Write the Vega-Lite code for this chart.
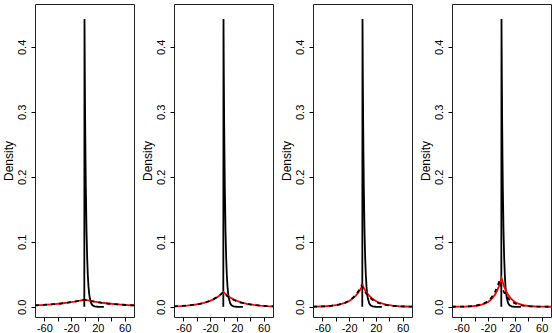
{
  "$schema": "https://vega.github.io/schema/vega-lite/v6.json",
  "padding": {"left": 1, "top": 3, "right": 0, "bottom": 0},
  "background": "white",
  "datasets": {
    "spike": [
      {"x": -0.3, "y": 0}, {"x": 0, "y": 0.443}, {"x": 0.5, "y": 0.355}, {"x": 1, "y": 0.284},
      {"x": 1.5, "y": 0.228}, {"x": 2, "y": 0.183}, {"x": 3, "y": 0.117}, {"x": 4, "y": 0.075},
      {"x": 5, "y": 0.048}, {"x": 6, "y": 0.031}, {"x": 7, "y": 0.02}, {"x": 8, "y": 0.013},
      {"x": 10, "y": 0.0053}, {"x": 12, "y": 0.0022}, {"x": 15, "y": 0.0006}, {"x": 20, "y": 0.0001}, {"x": 29, "y": 0}
    ],
    "curves": [
      {"p": 1, "s": "r", "x": -74, "y": 0.00213}, {"p": 1, "s": "r", "x": -65, "y": 0.00262}, {"p": 1, "s": "r", "x": -55, "y": 0.00327},
      {"p": 1, "s": "r", "x": -45, "y": 0.00408}, {"p": 1, "s": "r", "x": -35, "y": 0.0051}, {"p": 1, "s": "r", "x": -25, "y": 0.00637},
      {"p": 1, "s": "r", "x": -15, "y": 0.00795}, {"p": 1, "s": "r", "x": -7, "y": 0.0095}, {"p": 1, "s": "r", "x": -3, "y": 0.0104},
      {"p": 1, "s": "r", "x": 0, "y": 0.0111}, {"p": 1, "s": "r", "x": 3, "y": 0.0104}, {"p": 1, "s": "r", "x": 7, "y": 0.0095},
      {"p": 1, "s": "r", "x": 15, "y": 0.00795}, {"p": 1, "s": "r", "x": 25, "y": 0.00637}, {"p": 1, "s": "r", "x": 35, "y": 0.0051},
      {"p": 1, "s": "r", "x": 45, "y": 0.00408}, {"p": 1, "s": "r", "x": 55, "y": 0.00327}, {"p": 1, "s": "r", "x": 65, "y": 0.00262},
      {"p": 1, "s": "r", "x": 74, "y": 0.00213},

      {"p": 1, "s": "d", "x": -74, "y": 0.00215}, {"p": 1, "s": "d", "x": -65.5, "y": 0.00262}, {"p": 1, "s": "d", "x": -55.5, "y": 0.00327},
      {"p": 1, "s": "d", "x": -45.5, "y": 0.00408}, {"p": 1, "s": "d", "x": -35.5, "y": 0.0051}, {"p": 1, "s": "d", "x": -25.5, "y": 0.00637},
      {"p": 1, "s": "d", "x": -15.5, "y": 0.00795}, {"p": 1, "s": "d", "x": -7.5, "y": 0.0095}, {"p": 1, "s": "d", "x": -3.5, "y": 0.0104},
      {"p": 1, "s": "d", "x": -0.5, "y": 0.011}, {"p": 1, "s": "d", "x": 2.5, "y": 0.0104}, {"p": 1, "s": "d", "x": 6.5, "y": 0.0095},
      {"p": 1, "s": "d", "x": 14.5, "y": 0.00795}, {"p": 1, "s": "d", "x": 24.5, "y": 0.00637}, {"p": 1, "s": "d", "x": 34.5, "y": 0.0051},
      {"p": 1, "s": "d", "x": 44.5, "y": 0.00408}, {"p": 1, "s": "d", "x": 54.5, "y": 0.00327}, {"p": 1, "s": "d", "x": 64.5, "y": 0.00262},
      {"p": 1, "s": "d", "x": 74, "y": 0.0021},

      {"p": 2, "s": "r", "x": -74, "y": 0.00079}, {"p": 2, "s": "r", "x": -65, "y": 0.00118}, {"p": 2, "s": "r", "x": -55, "y": 0.00186},
      {"p": 2, "s": "r", "x": -45, "y": 0.00294}, {"p": 2, "s": "r", "x": -35, "y": 0.00463}, {"p": 2, "s": "r", "x": -25, "y": 0.00729},
      {"p": 2, "s": "r", "x": -20, "y": 0.00915}, {"p": 2, "s": "r", "x": -15, "y": 0.0115}, {"p": 2, "s": "r", "x": -10, "y": 0.0144},
      {"p": 2, "s": "r", "x": -7, "y": 0.0165}, {"p": 2, "s": "r", "x": -4, "y": 0.0189}, {"p": 2, "s": "r", "x": -2, "y": 0.0207},
      {"p": 2, "s": "r", "x": 0, "y": 0.0227}, {"p": 2, "s": "r", "x": 2, "y": 0.0207}, {"p": 2, "s": "r", "x": 4, "y": 0.0189},
      {"p": 2, "s": "r", "x": 7, "y": 0.0165}, {"p": 2, "s": "r", "x": 10, "y": 0.0144}, {"p": 2, "s": "r", "x": 15, "y": 0.0115},
      {"p": 2, "s": "r", "x": 20, "y": 0.00915}, {"p": 2, "s": "r", "x": 25, "y": 0.00729}, {"p": 2, "s": "r", "x": 35, "y": 0.00463},
      {"p": 2, "s": "r", "x": 45, "y": 0.00294}, {"p": 2, "s": "r", "x": 55, "y": 0.00186}, {"p": 2, "s": "r", "x": 65, "y": 0.00118},
      {"p": 2, "s": "r", "x": 74, "y": 0.00079},

      {"p": 2, "s": "d", "x": -74, "y": 0.0008}, {"p": 2, "s": "d", "x": -66, "y": 0.00115}, {"p": 2, "s": "d", "x": -56, "y": 0.00182},
      {"p": 2, "s": "d", "x": -46, "y": 0.00287}, {"p": 2, "s": "d", "x": -36, "y": 0.00453}, {"p": 2, "s": "d", "x": -26, "y": 0.00713},
      {"p": 2, "s": "d", "x": -21, "y": 0.00895}, {"p": 2, "s": "d", "x": -16, "y": 0.01123}, {"p": 2, "s": "d", "x": -11, "y": 0.0141},
      {"p": 2, "s": "d", "x": -8, "y": 0.0161}, {"p": 2, "s": "d", "x": -5, "y": 0.0185}, {"p": 2, "s": "d", "x": -3, "y": 0.0203},
      {"p": 2, "s": "d", "x": -1, "y": 0.0222}, {"p": 2, "s": "d", "x": 1, "y": 0.0203}, {"p": 2, "s": "d", "x": 3, "y": 0.0185},
      {"p": 2, "s": "d", "x": 6, "y": 0.0161}, {"p": 2, "s": "d", "x": 9, "y": 0.0141}, {"p": 2, "s": "d", "x": 14, "y": 0.01123},
      {"p": 2, "s": "d", "x": 19, "y": 0.00895}, {"p": 2, "s": "d", "x": 24, "y": 0.00713}, {"p": 2, "s": "d", "x": 34, "y": 0.00453},
      {"p": 2, "s": "d", "x": 44, "y": 0.00287}, {"p": 2, "s": "d", "x": 54, "y": 0.00182}, {"p": 2, "s": "d", "x": 64, "y": 0.00115},
      {"p": 2, "s": "d", "x": 74, "y": 0.00073},

      {"p": 3, "s": "r", "x": -74, "y": 0.00024}, {"p": 3, "s": "r", "x": -65, "y": 0.00044}, {"p": 3, "s": "r", "x": -55, "y": 0.00085},
      {"p": 3, "s": "r", "x": -45, "y": 0.00166}, {"p": 3, "s": "r", "x": -35, "y": 0.00323}, {"p": 3, "s": "r", "x": -25, "y": 0.0063},
      {"p": 3, "s": "r", "x": -20, "y": 0.00879}, {"p": 3, "s": "r", "x": -15, "y": 0.01226}, {"p": 3, "s": "r", "x": -10, "y": 0.0171},
      {"p": 3, "s": "r", "x": -7, "y": 0.0209}, {"p": 3, "s": "r", "x": -4, "y": 0.0255}, {"p": 3, "s": "r", "x": -2, "y": 0.0292},
      {"p": 3, "s": "r", "x": 0, "y": 0.0333}, {"p": 3, "s": "r", "x": 2, "y": 0.0292}, {"p": 3, "s": "r", "x": 4, "y": 0.0255},
      {"p": 3, "s": "r", "x": 7, "y": 0.0209}, {"p": 3, "s": "r", "x": 10, "y": 0.0171}, {"p": 3, "s": "r", "x": 15, "y": 0.01226},
      {"p": 3, "s": "r", "x": 20, "y": 0.00879}, {"p": 3, "s": "r", "x": 25, "y": 0.0063}, {"p": 3, "s": "r", "x": 35, "y": 0.00323},
      {"p": 3, "s": "r", "x": 45, "y": 0.00166}, {"p": 3, "s": "r", "x": 55, "y": 0.00085}, {"p": 3, "s": "r", "x": 65, "y": 0.00044},
      {"p": 3, "s": "r", "x": 74, "y": 0.00024},

      {"p": 3, "s": "d", "x": -74, "y": 0.00025}, {"p": 3, "s": "d", "x": -66.5, "y": 0.00043}, {"p": 3, "s": "d", "x": -56.5, "y": 0.00083},
      {"p": 3, "s": "d", "x": -46.5, "y": 0.00162}, {"p": 3, "s": "d", "x": -36.5, "y": 0.00315}, {"p": 3, "s": "d", "x": -26.5, "y": 0.00615},
      {"p": 3, "s": "d", "x": -21.5, "y": 0.00858}, {"p": 3, "s": "d", "x": -16.5, "y": 0.01196}, {"p": 3, "s": "d", "x": -11.5, "y": 0.01669},
      {"p": 3, "s": "d", "x": -8.5, "y": 0.0204}, {"p": 3, "s": "d", "x": -5.5, "y": 0.0249}, {"p": 3, "s": "d", "x": -3.5, "y": 0.0285},
      {"p": 3, "s": "d", "x": -1.5, "y": 0.0325}, {"p": 3, "s": "d", "x": 0.5, "y": 0.0285}, {"p": 3, "s": "d", "x": 2.5, "y": 0.0249},
      {"p": 3, "s": "d", "x": 5.5, "y": 0.0204}, {"p": 3, "s": "d", "x": 8.5, "y": 0.01669}, {"p": 3, "s": "d", "x": 13.5, "y": 0.01196},
      {"p": 3, "s": "d", "x": 18.5, "y": 0.00858}, {"p": 3, "s": "d", "x": 23.5, "y": 0.00615}, {"p": 3, "s": "d", "x": 33.5, "y": 0.00315},
      {"p": 3, "s": "d", "x": 43.5, "y": 0.00162}, {"p": 3, "s": "d", "x": 53.5, "y": 0.00083}, {"p": 3, "s": "d", "x": 63.5, "y": 0.00043},
      {"p": 3, "s": "d", "x": 74, "y": 0.00023},

      {"p": 4, "s": "r", "x": -74, "y": 0.00006}, {"p": 4, "s": "r", "x": -65, "y": 0.00014}, {"p": 4, "s": "r", "x": -55, "y": 0.00033},
      {"p": 4, "s": "r", "x": -45, "y": 0.00081}, {"p": 4, "s": "r", "x": -35, "y": 0.00198}, {"p": 4, "s": "r", "x": -25, "y": 0.0048},
      {"p": 4, "s": "r", "x": -20, "y": 0.0075}, {"p": 4, "s": "r", "x": -15, "y": 0.0117}, {"p": 4, "s": "r", "x": -10, "y": 0.0183},
      {"p": 4, "s": "r", "x": -7, "y": 0.0238}, {"p": 4, "s": "r", "x": -4, "y": 0.0311}, {"p": 4, "s": "r", "x": -2, "y": 0.0372},
      {"p": 4, "s": "r", "x": 0, "y": 0.0444}, {"p": 4, "s": "r", "x": 2, "y": 0.0372}, {"p": 4, "s": "r", "x": 4, "y": 0.0311},
      {"p": 4, "s": "r", "x": 7, "y": 0.0238}, {"p": 4, "s": "r", "x": 10, "y": 0.0183}, {"p": 4, "s": "r", "x": 15, "y": 0.0117},
      {"p": 4, "s": "r", "x": 20, "y": 0.0075}, {"p": 4, "s": "r", "x": 25, "y": 0.0048}, {"p": 4, "s": "r", "x": 35, "y": 0.00198},
      {"p": 4, "s": "r", "x": 45, "y": 0.00081}, {"p": 4, "s": "r", "x": 55, "y": 0.00033}, {"p": 4, "s": "r", "x": 65, "y": 0.00014},
      {"p": 4, "s": "r", "x": 74, "y": 0.00006},

      {"p": 4, "s": "d", "x": -74, "y": 0.00008}, {"p": 4, "s": "d", "x": -68, "y": 0.00013}, {"p": 4, "s": "d", "x": -58, "y": 0.00031},
      {"p": 4, "s": "d", "x": -48, "y": 0.00075}, {"p": 4, "s": "d", "x": -38, "y": 0.00183}, {"p": 4, "s": "d", "x": -28, "y": 0.00443},
      {"p": 4, "s": "d", "x": -23, "y": 0.00693}, {"p": 4, "s": "d", "x": -18, "y": 0.0108}, {"p": 4, "s": "d", "x": -13, "y": 0.01685},
      {"p": 4, "s": "d", "x": -10, "y": 0.022}, {"p": 4, "s": "d", "x": -7, "y": 0.0287}, {"p": 4, "s": "d", "x": -5, "y": 0.0343},
      {"p": 4, "s": "d", "x": -3, "y": 0.041}, {"p": 4, "s": "d", "x": -1, "y": 0.0343}, {"p": 4, "s": "d", "x": 1, "y": 0.0287},
      {"p": 4, "s": "d", "x": 4, "y": 0.022}, {"p": 4, "s": "d", "x": 7, "y": 0.01685}, {"p": 4, "s": "d", "x": 12, "y": 0.0108},
      {"p": 4, "s": "d", "x": 17, "y": 0.00693}, {"p": 4, "s": "d", "x": 22, "y": 0.00443}, {"p": 4, "s": "d", "x": 32, "y": 0.00183},
      {"p": 4, "s": "d", "x": 42, "y": 0.00075}, {"p": 4, "s": "d", "x": 52, "y": 0.00031}, {"p": 4, "s": "d", "x": 62, "y": 0.00013},
      {"p": 4, "s": "d", "x": 74, "y": 0.00005}
    ]
  },
  "spacing": 40,
  "bounds": "flush",
  "hconcat": [
    {
      "width": 99, "height": 313,
      "encoding": {
        "x": {"field": "x", "type": "quantitative", "scale": {"domain": [-74, 74], "nice": false, "zero": false},
              "axis": {"title": null, "values": [-60, -40, -20, 0, 20, 40, 60], "labelExpr": "datum.value % 40 == 0 ? '' : toString(datum.value)", "labelPadding": 1}},
        "y": {"field": "y", "type": "quantitative", "scale": {"domain": [-0.0157, 0.466], "nice": false},
              "axis": {"title": "Density", "values": [0, 0.1, 0.2, 0.3, 0.4], "format": ".1f", "labelAngle": -90, "labelAlign": "center", "labelBaseline": "bottom", "labelPadding": 4, "titlePadding": 1}}
      },
      "layer": [
        {"data": {"name": "spike"}, "mark": {"type": "line", "color": "black", "strokeWidth": 1.8}},
        {"data": {"name": "curves"}, "transform": [{"filter": "datum.p == 1 && datum.s == 'r'"}], "mark": {"type": "line", "color": "#ff0000", "strokeWidth": 1.8}},
        {"data": {"name": "curves"}, "transform": [{"filter": "datum.p == 1 && datum.s == 'd'"}], "mark": {"type": "line", "color": "black", "strokeWidth": 1.8, "strokeDash": [4, 4]}}
      ]
    },
    {
      "width": 99, "height": 313,
      "encoding": {
        "x": {"field": "x", "type": "quantitative", "scale": {"domain": [-74, 74], "nice": false, "zero": false},
              "axis": {"title": null, "values": [-60, -40, -20, 0, 20, 40, 60], "labelExpr": "datum.value % 40 == 0 ? '' : toString(datum.value)", "labelPadding": 1}},
        "y": {"field": "y", "type": "quantitative", "scale": {"domain": [-0.0157, 0.466], "nice": false},
              "axis": {"title": "Density", "values": [0, 0.1, 0.2, 0.3, 0.4], "format": ".1f", "labelAngle": -90, "labelAlign": "center", "labelBaseline": "bottom", "labelPadding": 4, "titlePadding": 1}}
      },
      "layer": [
        {"data": {"name": "spike"}, "mark": {"type": "line", "color": "black", "strokeWidth": 1.8}},
        {"data": {"name": "curves"}, "transform": [{"filter": "datum.p == 2 && datum.s == 'r'"}], "mark": {"type": "line", "color": "#ff0000", "strokeWidth": 1.8}},
        {"data": {"name": "curves"}, "transform": [{"filter": "datum.p == 2 && datum.s == 'd'"}], "mark": {"type": "line", "color": "black", "strokeWidth": 1.8, "strokeDash": [4, 4]}}
      ]
    },
    {
      "width": 99, "height": 313,
      "encoding": {
        "x": {"field": "x", "type": "quantitative", "scale": {"domain": [-74, 74], "nice": false, "zero": false},
              "axis": {"title": null, "values": [-60, -40, -20, 0, 20, 40, 60], "labelExpr": "datum.value % 40 == 0 ? '' : toString(datum.value)", "labelPadding": 1}},
        "y": {"field": "y", "type": "quantitative", "scale": {"domain": [-0.0157, 0.466], "nice": false},
              "axis": {"title": "Density", "values": [0, 0.1, 0.2, 0.3, 0.4], "format": ".1f", "labelAngle": -90, "labelAlign": "center", "labelBaseline": "bottom", "labelPadding": 4, "titlePadding": 1}}
      },
      "layer": [
        {"data": {"name": "spike"}, "mark": {"type": "line", "color": "black", "strokeWidth": 1.8}},
        {"data": {"name": "curves"}, "transform": [{"filter": "datum.p == 3 && datum.s == 'r'"}], "mark": {"type": "line", "color": "#ff0000", "strokeWidth": 1.8}},
        {"data": {"name": "curves"}, "transform": [{"filter": "datum.p == 3 && datum.s == 'd'"}], "mark": {"type": "line", "color": "black", "strokeWidth": 1.8, "strokeDash": [4, 4]}}
      ]
    },
    {
      "width": 99, "height": 313,
      "encoding": {
        "x": {"field": "x", "type": "quantitative", "scale": {"domain": [-74, 74], "nice": false, "zero": false},
              "axis": {"title": null, "values": [-60, -40, -20, 0, 20, 40, 60], "labelExpr": "datum.value % 40 == 0 ? '' : toString(datum.value)", "labelPadding": 1}},
        "y": {"field": "y", "type": "quantitative", "scale": {"domain": [-0.0157, 0.466], "nice": false},
              "axis": {"title": "Density", "values": [0, 0.1, 0.2, 0.3, 0.4], "format": ".1f", "labelAngle": -90, "labelAlign": "center", "labelBaseline": "bottom", "labelPadding": 4, "titlePadding": 1}}
      },
      "layer": [
        {"data": {"name": "spike"}, "mark": {"type": "line", "color": "black", "strokeWidth": 1.8}},
        {"data": {"name": "curves"}, "transform": [{"filter": "datum.p == 4 && datum.s == 'r'"}], "mark": {"type": "line", "color": "#ff0000", "strokeWidth": 1.8}},
        {"data": {"name": "curves"}, "transform": [{"filter": "datum.p == 4 && datum.s == 'd'"}], "mark": {"type": "line", "color": "black", "strokeWidth": 1.8, "strokeDash": [4, 4]}}
      ]
    }
  ],
  "config": {
    "view": {"stroke": "#222222", "strokeWidth": 1},
    "font": "Liberation Sans",
    "axis": {
      "grid": false, "domain": false, "tickColor": "black", "tickSize": 4, "tickWidth": 1,
      "labelColor": "black", "labelFont": "Liberation Sans", "labelFontSize": 11,
      "titleColor": "black", "titleFont": "Liberation Sans", "titleFontSize": 12, "titleFontWeight": "normal",
      "labelFlush": false, "labelOverlap": false, "labelBound": false
    }
  }
}
